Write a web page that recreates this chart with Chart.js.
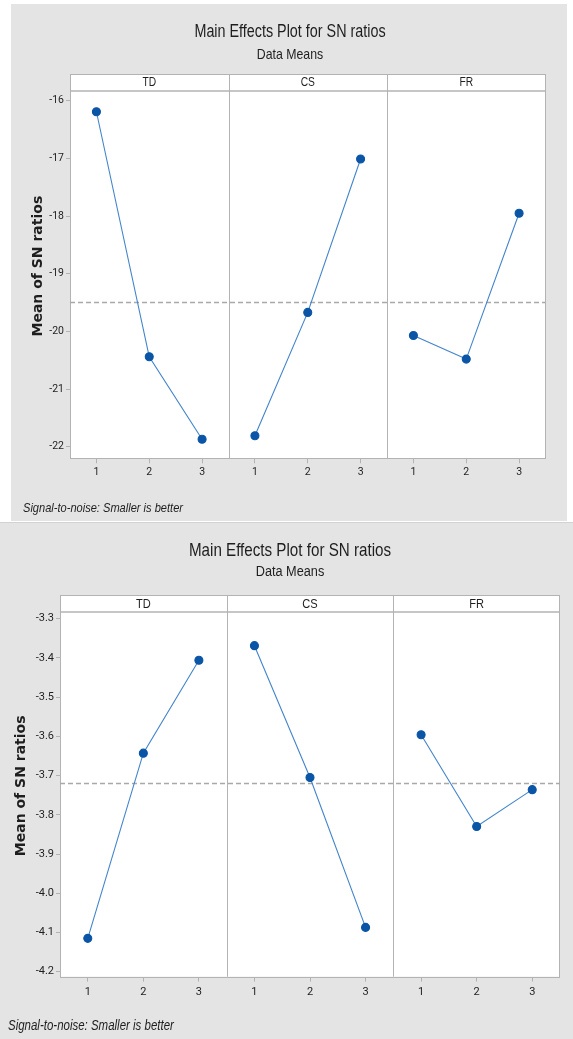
<!DOCTYPE html>
<html>
<head>
<meta charset="utf-8">
<title>Main Effects Plot for SN ratios</title>
<script src="https://cdn.jsdelivr.net/npm/chart.js@4.4.1/dist/chart.umd.min.js"></script>
<style>
  body { margin: 0; background: #ffffff; width: 573px; height: 1039px; position: relative; overflow: hidden; }
  .panel { position: absolute; background: #e4e4e4; }
  .panel canvas { display: block; }
  #p1 { left: 11px; top: 4px; width: 556px; height: 517px; }
  #p2 { left: 0; top: 522px; width: 573px; height: 517px; border-top: 1px solid #d2d2d2; }
</style>
</head>
<body>
<div class="panel" id="p1"><canvas id="chart1" width="556" height="517"></canvas></div>
<div class="panel" id="p2"><canvas id="chart2" width="573" height="517"></canvas></div>
<script>
// factors and levels (same for both plots)
var factors = ['TD', 'CS', 'FR'];
var levelLabels = ['1', '2', '3'];

// upper plot - mean of SN ratios per level
var upperTD = [-16.19, -20.44, -21.87];
var upperCS = [-21.81, -19.67, -17.01];
var upperFR = [-20.07, -20.48, -17.95];
var upperMean = -19.50;
var upperYTicks = [-22, -21, -20, -19, -18, -17, -16];

// lower plot
var lowerTD = [-4.115, -3.643, -3.406];
var lowerCS = [-3.369, -3.705, -4.087];
var lowerFR = [-3.596, -3.830, -3.736];
var lowerMean = -3.72;
var lowerYTicks = [-4.2, -4.1, -4.0, -3.9, -3.8, -3.7, -3.6, -3.5, -3.4, -3.3];

var titleText = 'Main Effects Plot for SN ratios';
var subtitleText = 'Data Means';
var yTitleText = 'Mean of SN ratios';
var footerText = 'Signal-to-noise: Smaller is better';

var tickFamily = 'Roboto, "Liberation Sans", sans-serif';
var sans = '"Liberation Sans", Arial, sans-serif';
var frameColor = '#b3b3b3';
var textColor = '#1e1e1e';

// minitab-ish condensed text: liberation sans squeezed horizontally
function narrowText(ctx, text, x, y, font, align) {
    ctx.save();
    ctx.font = font;
    ctx.textAlign = align || 'center';
    ctx.translate(x, y);
    ctx.scale(0.82, 1);
    ctx.fillText(text, 0, 0);
    ctx.restore();
}

var facetPlugin = {
    id: 'facets',
    beforeDraw: function (chart, args, o) {
        var ctx = chart.ctx, a = chart.chartArea;
        ctx.save();
        ctx.fillStyle = '#ffffff';
        ctx.fillRect(a.left, o.stripTop, a.right - a.left, a.bottom - o.stripTop);
        ctx.restore();
    },
    beforeDatasetsDraw: function (chart, args, o) {
        var ctx = chart.ctx, a = chart.chartArea, x = chart.scales.x;
        ctx.save();
        ctx.strokeStyle = frameColor;
        ctx.lineWidth = 1;
        ctx.strokeRect(Math.round(a.left) + 0.5, Math.round(o.stripTop) + 0.5,
            Math.round(a.right - a.left) - 1, Math.round(a.bottom - o.stripTop));

        // strip bottom
        ctx.lineWidth = 1.6;
        ctx.beginPath();
        ctx.moveTo(a.left, a.top);
        ctx.lineTo(a.right, a.top);
        ctx.stroke();

        // panel dividers
        ctx.lineWidth = 1;
        [3.5, 6.5].forEach(function (v) {
            var px = Math.round(x.getPixelForValue(v)) + 0.5;
            ctx.beginPath();
            ctx.moveTo(px, o.stripTop);
            ctx.lineTo(px, a.bottom);
            ctx.stroke();
        });

        // strip labels
        ctx.fillStyle = textColor;
        ctx.textBaseline = 'middle';
        factors.forEach(function (name, f) {
            narrowText(ctx, name, x.getPixelForValue(f * 3 + 2), (o.stripTop + a.top) / 2 + 0.5,
                o.stripFont + 'px ' + sans);
        });
        ctx.restore();
    },
    afterDraw: function (chart, args, o) {
        var ctx = chart.ctx, a = chart.chartArea;
        ctx.save();
        ctx.fillStyle = textColor;
        ctx.textBaseline = 'middle';
        narrowText(ctx, titleText, o.titleX, o.titleY, o.titleFont + 'px ' + sans);
        narrowText(ctx, subtitleText, o.titleX, o.subY, o.subFont + 'px ' + sans);
        narrowText(ctx, footerText, o.footX, o.footY, 'italic ' + o.footFont + 'px ' + sans, 'left');

        ctx.translate(o.yTitleX, (o.stripTop + a.bottom) / 2);
        ctx.rotate(-Math.PI / 2);
        ctx.textAlign = 'center';
        ctx.font = 'bold 14px "DejaVu Sans", sans-serif';
        ctx.fillText(yTitleText, 0, 0);
        ctx.restore();
    }
};

function buildChart(canvasId, p) {
    var series = [p.td, p.cs, p.fr];
    var datasets = factors.map(function (name, f) {
        return {
            label: name,
            data: levelLabels.map(function (lv, i) { return { x: f * 3 + i + 1, y: series[f][i] }; }),
            borderColor: '#4384cc',
            borderWidth: 1.1,
            pointBackgroundColor: '#0a55a6',
            pointBorderColor: '#0a55a6',
            pointRadius: 4,
            pointHoverRadius: 4,
            tension: 0
        };
    });
    datasets.push({
        label: 'mean',
        data: [{ x: 0.5, y: p.mean }, { x: 9.5, y: p.mean }],
        borderColor: '#a9a9a9',
        borderWidth: 1.5,
        borderDash: [5, 3],
        pointRadius: 0
    });

    var xPositions = [];
    factors.forEach(function (name, f) {
        levelLabels.forEach(function (lv, i) { xPositions.push(f * 3 + i + 1); });
    });

    var ctx = document.getElementById(canvasId).getContext('2d');
    return new Chart(ctx, {
        type: 'line',
        data: { datasets: datasets },
        options: {
            responsive: false,
            animation: false,
            events: [],
            layout: { padding: { top: p.top, right: p.right, bottom: p.bottom, left: 0 } },
            plugins: {
                legend: { display: false },
                tooltip: { enabled: false },
                facets: p.deco
            },
            scales: {
                x: {
                    type: 'linear',
                    min: 0.5,
                    max: 9.5,
                    afterBuildTicks: function (axis) {
                        axis.ticks = xPositions.map(function (v) { return { value: v }; });
                    },
                    afterFit: function (axis) { axis.height = 30; },
                    border: { display: false },
                    grid: { drawOnChartArea: false, drawTicks: true, tickLength: 5, color: frameColor },
                    ticks: {
                        autoSkip: false,
                        maxRotation: 0,
                        padding: p.xPad,
                        color: textColor,
                        font: { family: tickFamily, size: p.tickFont },
                        callback: function (v) { return levelLabels[(Math.round(v) - 1) % 3]; }
                    }
                },
                y: {
                    min: p.yMin,
                    max: p.yMax,
                    afterBuildTicks: function (axis) {
                        axis.ticks = p.yTicks.map(function (v) { return { value: v }; });
                    },
                    afterFit: function (axis) { axis.width = p.left; },
                    border: { display: false },
                    grid: { drawOnChartArea: false, drawTicks: true, tickLength: 4, color: frameColor },
                    ticks: {
                        padding: 2,
                        color: textColor,
                        font: { family: tickFamily, size: p.tickFont },
                        callback: function (v) { return v.toFixed(p.decimals); }
                    }
                }
            }
        },
        plugins: [facetPlugin]
    });
}

buildChart('chart1', {
    td: upperTD, cs: upperCS, fr: upperFR, mean: upperMean,
    yTicks: upperYTicks, yMin: -22.2, yMax: -15.83, decimals: 0,
    top: 87, right: 21.5, bottom: 32.7, left: 59,
    tickFont: 10.5, xPad: 3,
    deco: {
        stripTop: 70, stripFont: 12.5,
        titleX: 279, titleY: 28, titleFont: 17.5,
        subY: 51, subFont: 15,
        footX: 12, footY: 504, footFont: 13.5,
        yTitleX: 27
    }
});

buildChart('chart2', {
    td: lowerTD, cs: lowerCS, fr: lowerFR, mean: lowerMean,
    yTicks: lowerYTicks, yMin: -4.2127, yMax: -3.2832, decimals: 1,
    top: 89, right: 13, bottom: 33.3, left: 60,
    tickFont: 11, xPad: 4,
    deco: {
        stripTop: 72, stripFont: 13.5,
        titleX: 290, titleY: 28, titleFont: 18.5,
        subY: 49, subFont: 15.5,
        footX: 8, footY: 503, footFont: 14,
        yTitleX: 21
    }
});
</script>
</body>
</html>
